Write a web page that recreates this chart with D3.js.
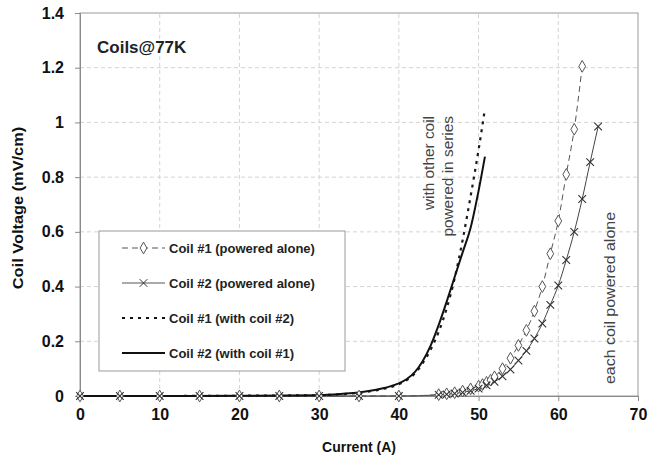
<!DOCTYPE html>
<html>
<head>
<meta charset="utf-8">
<script src="https://cdn.jsdelivr.net/npm/d3@7"></script>
<style>
  body { margin: 0; background: #fff; }
  svg { font-family: Arial, "Liberation Sans", sans-serif; }
</style>
</head>
<body>
<svg></svg>
<script>
const width = 649;
const height = 466;

// currents (A) and voltages (mV/cm)
const coil1AloneI = [0, 5, 10, 15, 20, 25, 30, 35, 40, 45, 46, 47, 48, 49, 50, 50.5, 51, 51.5, 52, 53, 54, 55, 56, 57, 58, 59, 60, 61, 62, 63];
const coil1AloneV = [0, 0, 0, 0, 0, 0, 0, 0, 0, 0.005, 0.008, 0.012, 0.018, 0.026, 0.036, 0.042, 0.05, 0.058, 0.07, 0.1, 0.138, 0.185, 0.24, 0.31, 0.40, 0.52, 0.64, 0.81, 0.975, 1.205];

const coil2AloneI = [0, 5, 10, 15, 20, 25, 30, 35, 40, 45, 46, 47, 48, 49, 50, 51, 52, 53, 54, 55, 56, 57, 58, 59, 60, 61, 62, 63, 64, 65];
const coil2AloneV = [0, 0, 0, 0, 0, 0, 0, 0, 0, 0.004, 0.006, 0.009, 0.013, 0.019, 0.027, 0.039, 0.052, 0.072, 0.097, 0.13, 0.165, 0.21, 0.265, 0.333, 0.404, 0.497, 0.60, 0.72, 0.855, 0.985];

const coil1SeriesI = [0, 10, 20, 30, 33, 35, 37, 38, 39, 40, 41, 42, 43, 44, 45, 46, 47, 48, 49, 50, 50.8];
const coil1SeriesV = [0, 0, 0.001, 0.003, 0.007, 0.012, 0.02, 0.026, 0.033, 0.043, 0.058, 0.082, 0.12, 0.17, 0.235, 0.32, 0.43, 0.57, 0.73, 0.9, 1.05];

const coil2SeriesI = [0, 10, 20, 30, 33, 35, 37, 38, 39, 40, 41, 42, 43, 44, 45, 46, 47, 48, 49, 50, 50.8];
const coil2SeriesV = [0, 0, 0.001, 0.003, 0.008, 0.013, 0.022, 0.028, 0.036, 0.046, 0.062, 0.087, 0.128, 0.185, 0.26, 0.345, 0.435, 0.525, 0.615, 0.75, 0.875];

const xTicks = [0, 10, 20, 30, 40, 50, 60, 70];
const yTicks = [0, 0.2, 0.4, 0.6, 0.8, 1, 1.2, 1.4];
const yTickLabels = ["0", "0.2", "0.4", "0.6", "0.8", "1", "1.2", "1.4"];

const legendLabels = ["Coil #1 (powered alone)", "Coil #2 (powered alone)", "Coil #1 (with coil #2)", "Coil #2 (with coil #1)"];

const margin = {top: 13, right: 11, bottom: 70, left: 80};

const svg = d3.select("svg")
    .attr("width", width)
    .attr("height", height)
    .attr("viewBox", [0, 0, width, height]);

const x = d3.scaleLinear().domain([0, 70]).range([margin.left, width - margin.right]);
const y = d3.scaleLinear().domain([0, 1.4]).range([height - margin.bottom, margin.top]);

const zip = (a, b) => a.map((v, i) => [v, b[i]]);

// gridlines
svg.append("g")
    .selectAll("line")
    .data(yTicks.slice(1, -1))
    .join("line")
    .attr("x1", x(0)).attr("x2", x(70))
    .attr("y1", d => y(d)).attr("y2", d => y(d))
    .style("stroke", "#d4d4d4")
    .style("stroke-dasharray", "4,3");

svg.append("g")
    .selectAll("line")
    .data(xTicks.slice(1, -1))
    .join("line")
    .attr("x1", d => x(d)).attr("x2", d => x(d))
    .attr("y1", y(0)).attr("y2", y(1.4))
    .style("stroke", "#d4d4d4")
    .style("stroke-dasharray", "4,3");

// plot frame
svg.append("rect")
    .attr("x", x(0)).attr("y", y(1.4))
    .attr("width", x(70) - x(0)).attr("height", y(0) - y(1.4))
    .style("fill", "none")
    .style("stroke", "#9a9a9a");

// axes
const xAxis = svg.append("g")
    .attr("transform", `translate(0,${y(0)})`)
    .call(d3.axisBottom(x).tickValues(xTicks).tickSize(5).tickPadding(8).tickFormat(d3.format("d")));

const yAxis = svg.append("g")
    .attr("transform", `translate(${x(0)},0)`)
    .call(d3.axisLeft(y).tickValues(yTicks).tickSize(5).tickPadding(11)
        .tickFormat((d, i) => yTickLabels[i]));

[xAxis, yAxis].forEach(g => {
    g.select(".domain").style("stroke", "#8a8a8a");
    g.selectAll(".tick line").style("stroke", "#8a8a8a");
    g.selectAll(".tick text")
        .style("font-size", "16px")
        .style("font-weight", "bold")
        .style("fill", "#111");
});

// axis titles
svg.append("text")
    .attr("x", (x(0) + x(70)) / 2)
    .attr("y", 452)
    .attr("text-anchor", "middle")
    .style("font-size", "14px")
    .style("font-weight", "bold")
    .style("fill", "#111")
    .text("Current (A)");

svg.append("text")
    .attr("transform", "translate(23,208) rotate(-90) scale(1.17,1)")
    .attr("text-anchor", "middle")
    .style("font-size", "14px")
    .style("font-weight", "bold")
    .style("fill", "#111")
    .text("Coil Voltage (mV/cm)");

// series lines
const line = d3.line()
    .x(d => x(d[0]))
    .y(d => y(d[1]))
    .curve(d3.curveMonotoneX);

const coil1Alone = zip(coil1AloneI, coil1AloneV);
const coil2Alone = zip(coil2AloneI, coil2AloneV);

svg.append("path")
    .datum(coil2Alone)
    .attr("d", line)
    .style("fill", "none")
    .style("stroke", "#444")
    .style("stroke-width", 1);

svg.append("path")
    .datum(coil1Alone)
    .attr("d", line)
    .style("fill", "none")
    .style("stroke", "#555")
    .style("stroke-width", 1)
    .style("stroke-dasharray", "6,4");

svg.append("path")
    .datum(zip(coil1SeriesI, coil1SeriesV))
    .attr("d", line)
    .style("fill", "none")
    .style("stroke", "#1a1a1a")
    .style("stroke-width", 2.2)
    .style("stroke-dasharray", "3,5");

svg.append("path")
    .datum(zip(coil2SeriesI, coil2SeriesV))
    .attr("d", line)
    .style("fill", "none")
    .style("stroke", "#111")
    .style("stroke-width", 2);

// markers
const diamond = d3.symbol().type(d3.symbolDiamond).size(40);
const cross = d3.symbol().type(d3.symbolTimes).size(40);

svg.append("g")
    .selectAll("path")
    .data(coil1Alone)
    .join("path")
    .attr("transform", d => `translate(${x(d[0])},${y(d[1])})`)
    .attr("d", diamond)
    .style("fill", "#fff")
    .style("stroke", "#555")
    .style("stroke-width", 1);

svg.append("g")
    .selectAll("path")
    .data(coil2Alone)
    .join("path")
    .attr("transform", d => `translate(${x(d[0])},${y(d[1])})`)
    .attr("d", cross)
    .style("fill", "none")
    .style("stroke", "#333")
    .style("stroke-width", 1.1);

// chart label
svg.append("text")
    .attr("x", 97)
    .attr("y", 53)
    .style("font-size", "17px")
    .style("font-weight", "bold")
    .style("fill", "#222")
    .text("Coils@77K");

// annotations (text runs a little long in the picture)
svg.append("text")
    .attr("transform", "translate(434,116) rotate(-90) scale(1.1,1)")
    .attr("text-anchor", "end")
    .style("font-size", "14px")
    .style("fill", "#444")
    .text("with other coil");

svg.append("text")
    .attr("transform", "translate(453,116) rotate(-90) scale(1.1,1)")
    .attr("text-anchor", "end")
    .style("font-size", "14px")
    .style("fill", "#444")
    .text("powered in series");

svg.append("text")
    .attr("transform", "translate(615,298) rotate(-90) scale(1.14,1)")
    .attr("text-anchor", "middle")
    .style("font-size", "14px")
    .style("fill", "#444")
    .text("each coil powered alone");

// legend
const legend = svg.append("g").attr("transform", "translate(99,231)");

legend.append("rect")
    .attr("width", 246)
    .attr("height", 140)
    .style("fill", "#fff")
    .style("stroke", "#9a9a9a");

const legendY = d3.scalePoint().domain(legendLabels).range([17, 122]);

const items = legend.selectAll(".item")
    .data(legendLabels)
    .join("g")
    .attr("class", "item")
    .attr("transform", d => `translate(0,${legendY(d)})`);

items.append("line")
    .attr("x1", 23).attr("x2", 66)
    .style("stroke", (d, i) => i < 2 ? "#555" : "#111")
    .style("stroke-width", (d, i) => i < 2 ? 1 : 2.2)
    .style("stroke-dasharray", (d, i) => ["6,4", null, "3,5", null][i]);

items.filter((d, i) => i === 0).append("path")
    .attr("transform", "translate(44.5,0)")
    .attr("d", diamond)
    .style("fill", "#fff")
    .style("stroke", "#555");

items.filter((d, i) => i === 1).append("path")
    .attr("transform", "translate(44.5,0)")
    .attr("d", cross)
    .style("fill", "none")
    .style("stroke", "#333");

items.append("text")
    .attr("x", 70)
    .attr("dy", "0.35em")
    .style("font-size", "13px")
    .style("font-weight", "bold")
    .style("fill", "#222")
    .text(d => d);
</script>
</body>
</html>
